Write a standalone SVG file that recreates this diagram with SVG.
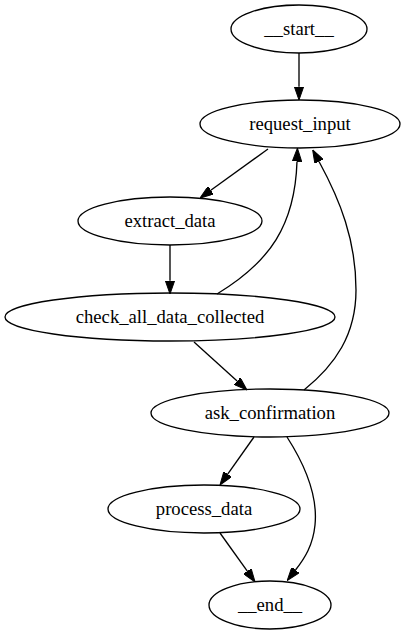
<svg xmlns="http://www.w3.org/2000/svg" width="405" height="635" viewBox="0 0 405 635">
<defs>
<style>
.node ellipse{fill:none;stroke:#000;stroke-width:1.33}
.edge{fill:none;stroke:#000;stroke-width:1.33}
text{font-family:'Liberation Serif','DejaVu Serif',serif;font-size:18.67px;text-anchor:middle;fill:#000}
</style>
<marker id="arr" viewBox="0 0 13.33 9.33" refX="0" refY="4.67" markerWidth="13.33" markerHeight="9.33" markerUnits="userSpaceOnUse" orient="auto">
<path d="M0,0 L13.33,4.67 L0,9.33 z" fill="#000" stroke="#000" stroke-width="1"/>
</marker>
</defs>
<rect width="405" height="635" fill="#fff"/>
<g id="edges">
<path class="edge" marker-end="url(#arr)" d="M299,53 L299,86.7"/>
<path class="edge" marker-end="url(#arr)" d="M268,149 L210.8,190.2"/>
<path class="edge" marker-end="url(#arr)" d="M170,245 L170,280.7"/>
<path class="edge" marker-end="url(#arr)" d="M217,294 C270,262 295,225 297,161.5"/>
<path class="edge" marker-end="url(#arr)" d="M304,390 C335,365 356,335 356,290 C356,240 340,200 319,161.5"/>
<path class="edge" marker-end="url(#arr)" d="M194,342 L237.1,381.1"/>
<path class="edge" marker-end="url(#arr)" d="M254,437 L227.7,474.1"/>
<path class="edge" marker-end="url(#arr)" d="M220,533 L247.3,571.1"/>
<path class="edge" marker-end="url(#arr)" d="M287,437 C305,465 318,495 315,525 C313,545 305,558 295.5,570"/>
</g>
<g id="node-start" class="node"><ellipse cx="299" cy="29" rx="68" ry="24"/><text x="299" y="35" style="font-family:'Liberation Serif',serif;font-size:18.67px">__start__</text></g>
<g id="node-request_input" class="node"><ellipse cx="300" cy="124" rx="100" ry="24"/><text x="300" y="130" style="font-family:'Liberation Serif',serif;font-size:18.67px">request_input</text></g>
<g id="node-extract_data" class="node"><ellipse cx="170" cy="221" rx="92" ry="24"/><text x="170" y="227" style="font-family:'Liberation Serif',serif;font-size:18.67px">extract_data</text></g>
<g id="node-check_all_data_collected" class="node"><ellipse cx="170" cy="317" rx="165" ry="24"/><text x="170" y="323" style="font-family:'Liberation Serif',serif;font-size:18.67px">check_all_data_collected</text></g>
<g id="node-ask_confirmation" class="node"><ellipse cx="270" cy="413" rx="119" ry="24"/><text x="270" y="419" style="font-family:'Liberation Serif',serif;font-size:18.67px">ask_confirmation</text></g>
<g id="node-process_data" class="node"><ellipse cx="204" cy="509" rx="96" ry="24"/><text x="204" y="515" style="font-family:'Liberation Serif',serif;font-size:18.67px">process_data</text></g>
<g id="node-end" class="node"><ellipse cx="270" cy="605" rx="61" ry="24"/><text x="270" y="611" style="font-family:'Liberation Serif',serif;font-size:18.67px">__end__</text></g>
</svg>
